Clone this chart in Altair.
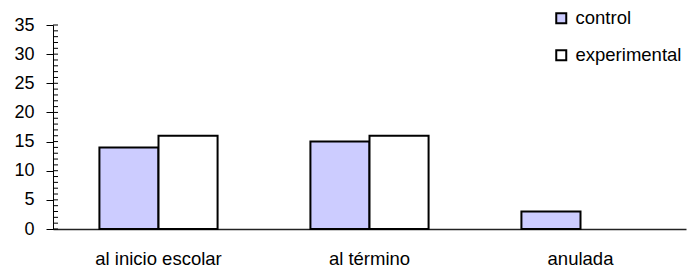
import altair as alt
import pandas as pd

categories = ["al inicio escolar", "al término", "anulada"]
groups = ["control", "experimental"]
control_values = [14, 15, 3]
experimental_values = [16, 16, 0]
y_ticks = [0, 5, 10, 15, 20, 25, 30, 35]
minor_ticks = list(range(0, 36))
colors = ["#CCCCFF", "#FFFFFF"]

rows = []
for c, v in zip(categories, control_values):
    rows.append({"cat": c, "grupo": "control", "value": v})
for c, v in zip(categories, experimental_values):
    rows.append({"cat": c, "grupo": "experimental", "value": v})
df = pd.DataFrame(rows)
minor_df = pd.DataFrame({"t": minor_ticks})

FONT = "Liberation Sans"

yscale = alt.Scale(domain=[0, 35], nice=False, zero=True)
yaxis = alt.Axis(title=None, values=y_ticks, tickSize=7, tickColor="black",
                 labelPadding=12, labelFontSize=18, labelFont=FONT,
                 labelColor="black", domainColor="black", grid=False,
                 labelOverlap=False, labelBound=False, labelFlush=False)

bars = alt.Chart(df).transform_filter("datum.value > 0").mark_bar(
    stroke="black", strokeWidth=2
).encode(
    x=alt.X("cat:N", sort=categories,
            scale=alt.Scale(paddingInner=0.44, paddingOuter=0.22),
            axis=alt.Axis(title=None, labelAngle=0, ticks=False, labelPadding=20,
                          labelFontSize=18.5, labelFont=FONT, labelColor="black",
                          domainColor="#222222", domainWidth=1.5, labelOverlap=False)),
    xOffset=alt.XOffset("grupo:N", sort=groups),
    y=alt.Y("value:Q", scale=yscale, axis=yaxis),
    color=alt.Color("grupo:N", sort=groups,
                    scale=alt.Scale(domain=groups, range=colors),
                    legend=alt.Legend(title=None, orient="none", legendX=499, legendY=-16,
                                      symbolType="square", symbolSize=100,
                                      symbolStrokeColor="black", symbolStrokeWidth=2,
                                      labelFontSize=18.5, labelFont=FONT, labelColor="black",
                                      rowPadding=18, labelOffset=5)),
)

minor = alt.Chart(minor_df).mark_rule(color="black", strokeWidth=1).encode(
    y=alt.Y("t:Q", scale=yscale, axis=yaxis),
    x=alt.value(0),
    x2=alt.value(5),
)

chart = alt.layer(minor, bars).properties(
    width=633, height=204,
    autosize=alt.AutoSizeParams(type="none"),
    padding={"left": 45, "top": 17, "right": 1, "bottom": 40},
).configure(background="white", view=alt.ViewConfig(stroke=None))

chart.save("out.html", embed_options={"renderer": "svg", "actions": False})
